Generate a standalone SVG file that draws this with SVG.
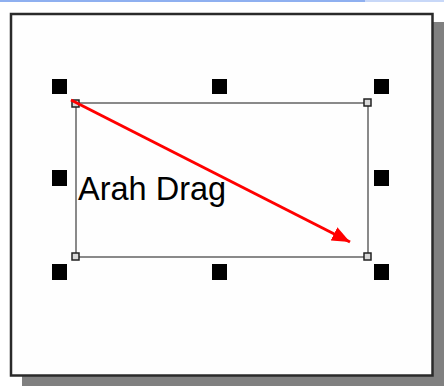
<svg xmlns="http://www.w3.org/2000/svg" width="444" height="391" viewBox="0 0 444 391">
<defs>
<style>
.h{fill:#000}
.c{fill:#d8d8d8;stroke:#222;stroke-width:1.5}
.t{font-family:"Liberation Sans",Arial,sans-serif;font-size:32.5px;fill:#000}
</style>
<marker id="ah" markerWidth="6" markerHeight="5" refX="6" refY="2.5" orient="auto" markerUnits="strokeWidth">
<path d="M0,0 L6,2.5 L0,5 Z" fill="#ff0000"/>
</marker>
</defs>
<rect width="444" height="391" fill="#fff"/>
<rect x="0" y="0" width="365" height="2" fill="#8fb0f0"/>
<rect x="365" y="0" width="79" height="2" fill="#c8d8f8"/>
<g id="frame">
<rect x="433" y="22" width="11" height="364" fill="#808080"/>
<rect x="22" y="376" width="422" height="10" fill="#808080"/>
<rect x="11" y="14" width="421.5" height="361.5" fill="#fefefe" stroke="#2a2a2a" stroke-width="2.5"/>
</g>
<g id="selection">
<rect x="76" y="103" width="292" height="154" fill="none" stroke="#8a8a8a" stroke-width="2"/>
<rect x="72" y="100" width="7" height="7" class="c"/>
<rect x="364" y="99" width="7" height="7" class="c"/>
<rect x="364" y="253" width="7" height="7" class="c"/>
<rect x="72" y="253" width="7" height="7" class="c"/>
</g>
<g id="handles">
<rect x="52" y="79" width="15" height="15" class="h"/>
<rect x="212" y="79" width="15" height="15" class="h"/>
<rect x="374" y="79" width="15" height="15" class="h"/>
<rect x="52" y="170" width="15" height="16" class="h"/>
<rect x="374" y="170" width="15" height="16" class="h"/>
<rect x="52" y="264" width="15" height="16" class="h"/>
<rect x="212" y="264" width="15" height="16" class="h"/>
<rect x="374" y="264" width="15" height="16" class="h"/>
</g>
<g id="label">
<text x="78" y="200" class="t">Arah Drag</text>
</g>
<g id="connectors">
<line x1="71" y1="100" x2="350" y2="242" stroke="#ff0000" stroke-width="3" marker-end="url(#ah)"/>
</g>
</svg>
